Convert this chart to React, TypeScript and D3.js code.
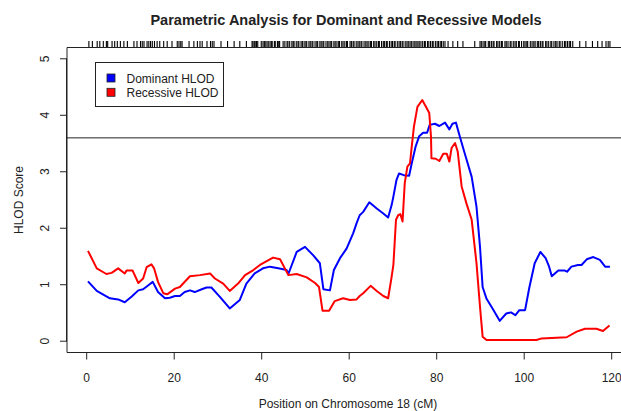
import React, { useRef, useEffect } from "react";
import { select, scaleLinear, line } from "d3";

// positions (cM) and HLOD values
const domPos = [0.3, 2.3, 5.3, 7.2, 8.7, 10.3, 11.8, 12.9, 14.1, 15.1, 16.3, 17.9, 19.0, 20.2, 21.3, 22.4, 23.6, 24.7, 26.3, 27.4, 28.5, 30.4, 32.7, 35.0, 36.5, 38.4, 40.3, 41.9, 43.8, 45.7, 46.1, 48.0, 49.9, 51.8, 53.3, 54.1, 55.6, 56.5, 57.9, 59.4, 60.9, 61.7, 62.4, 63.2, 64.6, 66.3, 67.8, 68.9, 69.7, 70.1, 70.8, 71.4, 72.5, 73.7, 74.3, 75.2, 76.0, 76.9, 77.8, 78.4, 79.6, 80.6, 81.9, 82.9, 83.6, 84.4, 85.3, 86.5, 88.0, 89.1, 89.9, 90.5, 91.4, 92.9, 94.4, 95.9, 97.0, 98.0, 98.9, 100.2, 101.2, 102.4, 103.7, 104.9, 105.7, 106.3, 107.8, 109.3, 109.8, 110.8, 112.3, 113.1, 114.3, 115.8, 117.3, 118.5, 119.6];
const domHlod = [1.06, 0.89, 0.76, 0.74, 0.69, 0.79, 0.9, 0.92, 0.99, 1.05, 0.87, 0.76, 0.77, 0.8, 0.8, 0.87, 0.9, 0.87, 0.92, 0.95, 0.95, 0.79, 0.58, 0.73, 1.02, 1.2, 1.29, 1.32, 1.29, 1.26, 1.19, 1.58, 1.67, 1.52, 1.38, 0.92, 0.9, 1.26, 1.47, 1.64, 1.91, 2.09, 2.23, 2.29, 2.46, 2.35, 2.26, 2.19, 2.41, 2.56, 2.85, 2.97, 2.94, 2.93, 3.15, 3.45, 3.63, 3.69, 3.69, 3.83, 3.85, 3.81, 3.87, 3.75, 3.85, 3.87, 3.62, 3.3, 2.91, 2.38, 1.67, 0.96, 0.75, 0.56, 0.36, 0.49, 0.51, 0.46, 0.55, 0.55, 0.96, 1.38, 1.58, 1.47, 1.32, 1.15, 1.25, 1.25, 1.23, 1.32, 1.35, 1.35, 1.45, 1.49, 1.44, 1.32, 1.32];

const recPos = [0.3, 2.3, 4.5, 5.7, 7.2, 8.7, 9.1, 10.5, 11.8, 12.9, 13.7, 14.8, 15.4, 16.3, 17.5, 18.4, 20.2, 21.3, 23.6, 25.9, 28.2, 29.3, 31.2, 32.7, 34.6, 36.2, 38.1, 39.6, 42.6, 44.2, 46.1, 48.0, 50.3, 52.2, 53.1, 53.9, 55.4, 56.7, 58.6, 60.2, 61.7, 62.4, 63.2, 64.9, 66.3, 67.8, 68.9, 69.7, 70.1, 70.7, 71.2, 71.7, 72.2, 72.7, 73.3, 73.9, 74.3, 74.8, 75.6, 76.7, 77.7, 78.3, 78.7, 78.8, 79.8, 80.6, 81.5, 82.3, 82.9, 83.4, 84.2, 84.8, 85.7, 86.8, 88.0, 89.1, 89.9, 90.5, 91.4, 102.8, 104.0, 109.7, 112.0, 113.9, 116.5, 118.0, 119.5];
const recHlod = [1.6, 1.29, 1.19, 1.21, 1.29, 1.2, 1.25, 1.25, 1.03, 1.11, 1.31, 1.36, 1.29, 1.05, 0.85, 0.83, 0.93, 0.96, 1.15, 1.17, 1.2, 1.11, 1.02, 0.89, 1.02, 1.17, 1.26, 1.35, 1.48, 1.45, 1.17, 1.19, 1.13, 1.03, 0.96, 0.54, 0.54, 0.71, 0.76, 0.73, 0.74, 0.8, 0.85, 0.98, 0.89, 0.8, 0.76, 1.14, 1.35, 2.15, 2.23, 2.25, 2.12, 2.8, 3.09, 3.15, 3.45, 3.8, 4.15, 4.27, 4.13, 4.04, 3.62, 3.24, 3.23, 3.19, 3.32, 3.32, 3.18, 3.42, 3.51, 3.36, 2.74, 2.44, 2.15, 1.38, 0.61, 0.08, 0.02, 0.02, 0.05, 0.07, 0.17, 0.22, 0.22, 0.18, 0.28];

// marker positions for the rug on top
const markers = [0.5, 1.3, 2.4, 3.0, 3.8, 4.5, 4.8, 5.8, 6.4, 7.0, 7.7, 8.5, 9.3, 10.8, 11.5, 12.3, 12.7, 13.1, 13.8, 14.2, 14.6, 15.0, 15.5, 16.1, 16.7, 17.6, 18.4, 19.5, 20.7, 21.1, 21.5, 21.8, 23.4, 24.5, 25.3, 25.9, 26.4, 27.5, 28.3, 28.7, 29.1, 30.7, 32.2, 33.7, 35.0, 36.5,
  37.8, 38.0, 38.3, 38.5, 38.8, 39.1, 39.9, 40.3, 40.6, 40.8, 41.2, 41.5, 41.9, 42.2, 42.4, 42.9, 43.1, 43.6, 43.9, 44.1, 44.9, 45.3, 45.8, 46.0, 46.4, 46.9, 47.2, 47.4, 47.9, 48.3, 48.5, 49.0, 49.3, 49.7, 50.1, 50.3, 50.8, 51.1, 51.5, 51.7, 52.2, 52.6, 52.8, 53.3, 53.6, 54.0, 54.2, 54.7, 55.1, 55.4, 55.8, 56.0, 56.5, 56.8, 57.2, 57.6, 57.8, 58.3, 58.6, 59.0, 59.4, 59.6, 60.2, 60.5, 60.9, 61.1, 61.6, 62.0, 62.3, 62.7, 62.9, 63.4, 63.8, 64.1, 64.5, 64.9, 65.1, 65.6, 65.9, 66.3, 66.7, 66.9, 67.4, 67.8, 68.1, 68.5, 68.7, 69.2, 69.6, 69.9, 70.3, 70.5, 71.0, 71.4, 71.7, 72.1, 72.3, 72.8, 73.2, 73.5, 73.9, 74.2, 74.6, 75.0, 75.3, 75.7, 76.0, 76.4, 76.8, 77.2, 77.4, 77.9, 78.2, 78.6, 79.0, 79.2, 79.7, 80.1, 80.4, 80.8, 81.1, 81.5, 81.9,
  82.6, 83.7, 84.8, 86.0, 88.7, 89.9, 90.2, 90.6, 91.0, 91.2, 91.8, 92.1, 92.5, 92.9, 93.1, 93.7, 94.0, 94.4, 94.8, 95.0, 95.6, 95.9, 96.3, 96.8, 97.0, 97.5, 97.9, 98.2, 98.7, 98.9, 99.4, 99.9, 100.2, 100.6, 100.8, 101.4, 101.8, 102.2, 102.5, 103.0, 103.3, 103.7, 104.1, 104.3, 104.9, 105.2, 105.6, 106.1, 106.3, 106.8, 107.2, 107.5, 108.0, 108.2, 108.7, 109.2, 109.5, 109.9, 110.3, 110.6, 111.1,
  112.7, 114.1, 115.6, 116.8, 117.8, 118.7, 119.2, 119.6];

const xTicks = [0, 20, 40, 60, 80, 100, 120];
const yTicks = [0, 1, 2, 3, 4, 5];
const threshold = 3.6;
const legendItems = [
  { label: "Dominant HLOD", color: "#0000ff" },
  { label: "Recessive HLOD", color: "#ff0000" },
];

const W = 621;
const H = 411;
const font = "Liberation Sans, Arial, sans-serif";
const ink = "#222";

const App = () => {
  const ref = useRef(null);

  useEffect(() => {
    const svg = select(ref.current);
    svg.selectAll("*").remove();

    const left = 67, top = 47.5, bottom = 352.5;
    const xScale = scaleLinear().domain([-4.5, 125]).range([left, left + 129.5 * 4.375]);
    const yScale = scaleLinear().domain([-0.2, 5.2]).range([bottom, top]);
    const right = xScale(125);

    svg.append("rect").attr("width", W).attr("height", H).attr("fill", "#fff");

    // title
    svg.append("text")
      .attr("x", 346).attr("y", 25)
      .attr("text-anchor", "middle")
      .style("font-family", font).style("font-size", "14.5px").style("font-weight", "bold")
      .attr("fill", ink)
      .text("Parametric Analysis for Dominant and Recessive Models");

    // rug
    svg.append("g").selectAll("line")
      .data(markers).enter().append("line")
      .attr("x1", (d) => xScale(d)).attr("x2", (d) => xScale(d))
      .attr("y1", top - 6.5).attr("y2", top)
      .attr("stroke", "#000").attr("stroke-width", 1.1);

    // box
    svg.append("path")
      .attr("d", `M${right},${top}H${left}V${bottom}H${right}`)
      .attr("fill", "none").attr("stroke", ink).attr("stroke-width", 1);

    // y axis
    const yg = svg.append("g");
    yg.append("line").attr("x1", left - 0.5).attr("x2", left - 0.5)
      .attr("y1", yScale(0)).attr("y2", yScale(5)).attr("stroke", ink);
    yTicks.forEach((t) => {
      yg.append("line").attr("x1", left - 7).attr("x2", left)
        .attr("y1", yScale(t)).attr("y2", yScale(t)).attr("stroke", ink);
      yg.append("text")
        .attr("transform", `translate(49,${yScale(t)}) rotate(-90)`)
        .attr("text-anchor", "middle")
        .style("font-family", font).style("font-size", "12px")
        .attr("fill", ink).text(t);
    });

    // x axis
    const xg = svg.append("g");
    xTicks.forEach((t) => {
      xg.append("line").attr("x1", xScale(t)).attr("x2", xScale(t))
        .attr("y1", bottom).attr("y2", bottom + 7).attr("stroke", ink);
      xg.append("text")
        .attr("x", xScale(t)).attr("y", 382)
        .attr("text-anchor", "middle")
        .style("font-family", font).style("font-size", "12px")
        .attr("fill", ink).text(t);
    });

    // axis titles
    svg.append("text")
      .attr("x", 348).attr("y", 408)
      .attr("text-anchor", "middle")
      .style("font-family", font).style("font-size", "12px")
      .attr("fill", ink).text("Position on Chromosome 18 (cM)");
    svg.append("text")
      .attr("transform", `translate(22.5,200) rotate(-90)`)
      .attr("text-anchor", "middle")
      .style("font-family", font).style("font-size", "12px")
      .attr("fill", ink).text("HLOD Score");

    // threshold line
    svg.append("line")
      .attr("x1", left).attr("x2", right)
      .attr("y1", yScale(threshold)).attr("y2", yScale(threshold))
      .attr("stroke", ink).attr("stroke-width", 1);

    const lineGen = line()
      .x((d) => xScale(d[0]))
      .y((d) => yScale(d[1]));

    svg.append("path")
      .datum(domPos.map((p, i) => [p, domHlod[i]]))
      .attr("fill", "none").attr("stroke", "#0000ff")
      .attr("stroke-width", 2).attr("stroke-linejoin", "round")
      .attr("d", lineGen);

    svg.append("path")
      .datum(recPos.map((p, i) => [p, recHlod[i]]))
      .attr("fill", "none").attr("stroke", "#ff0000")
      .attr("stroke-width", 2).attr("stroke-linejoin", "round")
      .attr("d", lineGen);

    // legend
    const lg = svg.append("g");
    lg.append("rect")
      .attr("x", 95.5).attr("y", 62.5).attr("width", 128).attr("height", 44)
      .attr("fill", "#fff").attr("stroke", ink);
    legendItems.forEach((d, i) => {
      lg.append("rect")
        .attr("x", 107).attr("y", 74 + i * 14.3).attr("width", 8).attr("height", 8)
        .attr("fill", d.color).attr("stroke", ink).attr("stroke-width", 0.8);
      lg.append("text")
        .attr("x", 126.5).attr("y", 82.5 + i * 14.3)
        .style("font-family", font).style("font-size", "12px")
        .attr("fill", ink).text(d.label);
    });
  }, []);

  return (
    <svg ref={ref} width={W} height={H}
      style={{ position: "absolute", left: 0, top: 0, display: "block" }} />
  );
};

export default App;
